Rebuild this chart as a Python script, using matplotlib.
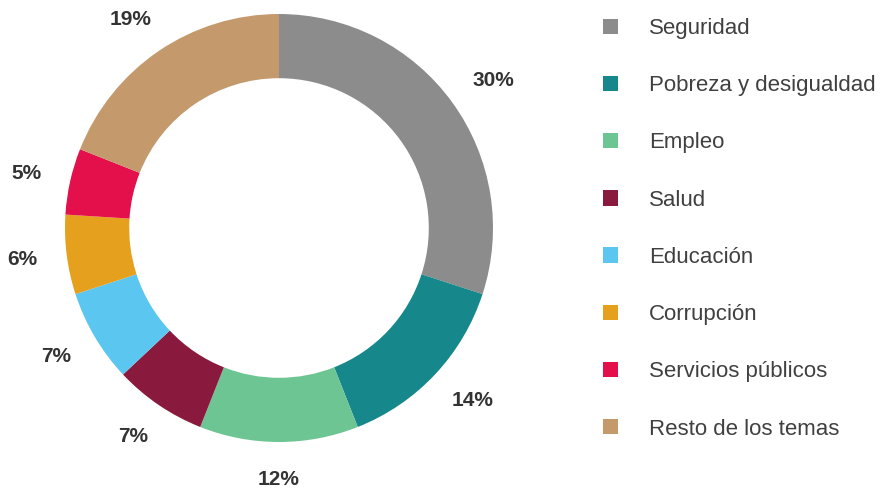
import numpy as np
import matplotlib.pyplot as plt

plt.rcParams['font.family'] = ['Liberation Sans', 'DejaVu Sans']

temas = ['Seguridad', 'Pobreza y desigualdad', 'Empleo', 'Salud',
         'Educación', 'Corrupción', 'Servicios públicos', 'Resto de los temas']
valores = [30, 14, 12, 7, 7, 6, 5, 19]
colores = ['#8c8c8c', '#16878a', '#6cc592', '#8a1a3d',
           '#5bc6ef', '#e5a01d', '#e3104b', '#c49a6c']

fig = plt.figure(figsize=(8.83, 4.92), dpi=100)
# pie centre at (279, 228) px, radius 214 px
R_px = 214
lim = 1.3
size = 2 * lim * R_px
ax = fig.add_axes([(279 - size / 2) / 883, (492 - 228 - size / 2) / 492,
                   size / 883, size / 492])

wedges, _ = ax.pie(valores, colors=colores, startangle=90, counterclock=False,
                   wedgeprops=dict(width=0.30, edgecolor='none'))
ax.set_xlim(-lim, lim)
ax.set_ylim(-lim, lim)
ax.set_aspect('equal')
ax.axis('off')

# outside labels: box edge kept at a fixed gap from the ring
fig.canvas.draw()
renderer = fig.canvas.get_renderer()
for w, v in zip(wedges, valores):
    ang = np.deg2rad((w.theta1 + w.theta2) / 2)
    t = ax.text(0, 0, f'{v}%', ha='center', va='center', fontsize=15,
                fontweight='bold', color='#333333')
    bb = t.get_window_extent(renderer)
    hw = bb.width / 2 / R_px
    hh = bb.height / 2 / R_px * 0.8
    r = 1.14
    x = r * np.cos(ang) + hw * np.cos(ang)
    y = r * np.sin(ang) + hh * np.sin(ang)
    t.set_position((x, y))

fig.legend(wedges, temas, loc='upper left',
           bbox_to_anchor=(603 / 883, 1 - 18 / 492),
           frameon=False, fontsize=16, labelcolor='#404040',
           handlelength=0.68, handleheight=0.68, handletextpad=1.4,
           labelspacing=1.63, borderpad=0, borderaxespad=0)

fig.savefig('out.png', dpi=100)
